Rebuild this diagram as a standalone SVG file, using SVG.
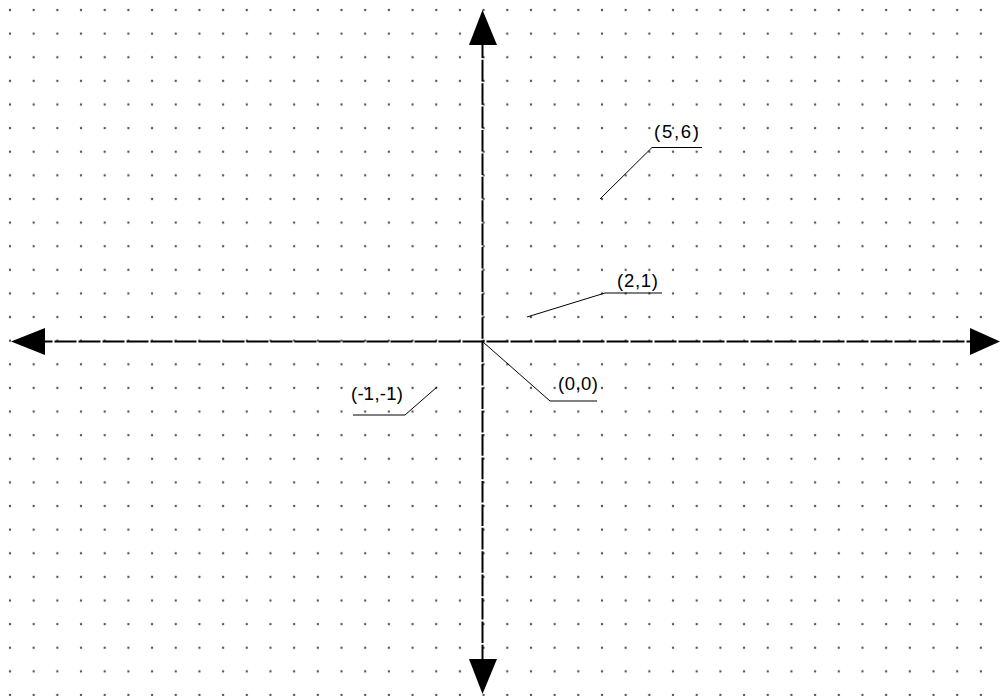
<svg xmlns="http://www.w3.org/2000/svg" width="1001" height="696" viewBox="0 0 1001 696">
  <style>
    .axis { stroke: #000; stroke-width: 2; fill: none; }
    .head { fill: #000; stroke: none; }
    .lead { stroke: #000; stroke-width: 1; fill: none; }
    .lbl { font-family: "Liberation Sans", Arial, sans-serif; font-size: 18.5px; fill: #000; }
  </style>
  <defs>
    <pattern id="dots" patternUnits="userSpaceOnUse" x="-1.84" y="-1.81" width="23.68" height="23.62">
      <circle cx="11.84" cy="11.81" r="1.2" fill="#555"/>
    </pattern>
  </defs>
  <rect id="background" x="0" y="0" width="1001" height="696" fill="#fff"/>
  <rect id="grid" x="0" y="0" width="1001" height="696" fill="url(#dots)"/>

  <g id="connectors">
    <line id="x-axis" class="axis" x1="45" y1="341.5" x2="970" y2="341.5" stroke-dasharray="22 2" stroke-dashoffset="14.5"/>
    <line id="y-axis" class="axis" x1="482.5" y1="45" x2="482.5" y2="659" stroke-dasharray="21.6 1.8" stroke-dashoffset="8.6"/>
    <polygon class="head" points="482.5,10 469,45 497,45"/>
    <polygon class="head" points="482.5,694 469,659 497,659"/>
    <polygon class="head" points="11,341.5 45,328 45,355"/>
    <polygon class="head" points="1000,341.5 970,328 970,355"/>
    <line class="lead" x1="600" y1="199" x2="652" y2="147.5"/>
    <line class="lead" x1="527" y1="317" x2="605" y2="293"/>
    <line class="lead" x1="483" y1="342" x2="550" y2="401"/>
    <line class="lead" x1="437" y1="387" x2="405" y2="415"/>
  </g>

  <g id="label-5-6">
    <line class="lead" x1="652" y1="147.5" x2="702" y2="147.5"/>
    <text class="lbl" x="654" y="138" textLength="45" lengthAdjust="spacing">(5,6)</text>
  </g>
  <g id="label-2-1">
    <line class="lead" x1="605" y1="293" x2="662" y2="293"/>
    <text class="lbl" x="617" y="287" textLength="41" lengthAdjust="spacing">(2,1)</text>
  </g>
  <g id="label-0-0">
    <line class="lead" x1="550" y1="401" x2="597" y2="401"/>
    <text class="lbl" x="558" y="390" textLength="40" lengthAdjust="spacing">(0,0)</text>
  </g>
  <g id="label-m1-m1">
    <line class="lead" x1="353" y1="415" x2="405" y2="415"/>
    <text class="lbl" x="351" y="400" textLength="52" lengthAdjust="spacing">(-1,-1)</text>
  </g>
</svg>
